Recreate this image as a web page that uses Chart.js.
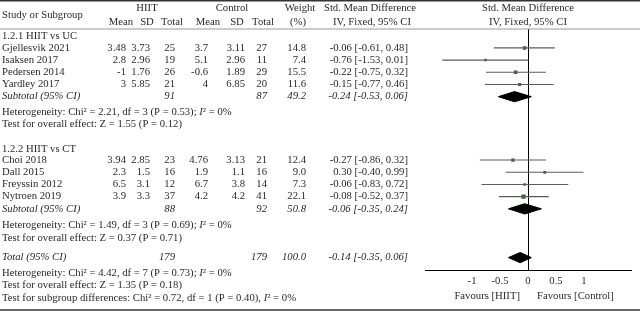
<!DOCTYPE html>
<html>
<head>
<meta charset="utf-8">
<script src="https://cdn.jsdelivr.net/npm/chart.js@4.4.1/dist/chart.umd.min.js"></script>
<style>
  html, body { margin: 0; padding: 0; background: #fff; }
  canvas { display: block; }
</style>
</head>
<body>
<canvas id="forest" width="640" height="313"></canvas>
<script>
// --- data ---
const studies = ['Gjellesvik 2021', 'Isaksen 2017', 'Pedersen 2014', 'Yardley 2017',
                 'Choi 2018', 'Dall 2015', 'Freyssin 2012', 'Nytroen 2019'];
const hiitMean = ['3.48', '2.8', '-1', '3', '3.94', '2.3', '6.5', '3.9'];
const hiitSD = ['3.73', '2.96', '1.76', '5.85', '2.85', '1.5', '3.1', '3.3'];
const hiitN = [25, 19, 26, 21, 23, 16, 12, 37];
const ctrlMean = ['3.7', '5.1', '-0.6', '4', '4.76', '1.9', '6.7', '4.2'];
const ctrlSD = ['3.11', '2.96', '1.89', '6.85', '3.13', '1.1', '3.8', '4.2'];
const ctrlN = [27, 11, 29, 20, 21, 16, 14, 41];
const weights = [14.8, 7.4, 15.5, 11.6, 12.4, 9.0, 7.3, 22.1];
const smd = [-0.06, -0.76, -0.22, -0.15, -0.27, 0.30, -0.06, -0.08];
const ciLow = [-0.61, -1.53, -0.75, -0.77, -0.86, -0.40, -0.83, -0.52];
const ciHigh = [0.48, 0.01, 0.32, 0.46, 0.32, 0.99, 0.72, 0.37];
const studyRow = [1, 2, 3, 4, 10.2, 11.2, 12.2, 13.2];

// subtotals + total
const pooledLabel = ['Subtotal (95% CI)', 'Subtotal (95% CI)', 'Total (95% CI)'];
const pooledHiitN = [91, 88, 179];
const pooledCtrlN = [87, 92, 179];
const pooledWeight = [49.2, 50.8, 100.0];
const pooledSmd = [-0.24, -0.06, -0.14];
const pooledLow = [-0.53, -0.35, -0.35];
const pooledHigh = [0.06, 0.24, 0.06];
const pooledRow = [5, 14.2, 18.2];

// subgroup headers
const groupTitles = ['1.2.1 HIIT vs UC', '1.2.2 HIIT vs CT'];
const groupRow = [0, 9.28];

// heterogeneity / overall effect lines
const hetChi = ['2.21', '1.49', '4.42'];
const hetDf = [3, 3, 7];
const hetP = ['0.53', '0.69', '0.73'];
const hetI2 = [0, 0, 0];
const hetRow = [6.25, 15.58, 19.45];
const effZ = ['1.55', '0.37', '1.35'];
const effP = ['0.12', '0.71', '0.18'];
const effRow = [7.25, 16.57, 20.48];
const subgroupDiff = { chi: '0.72', df: 1, p: '0.40', i2: 0, row: 21.5 };

const xTicks = [-1, -0.5, 0, 0.5, 1];
const favourLeft = 'Favours [HIIT]';
const favourRight = 'Favours [Control]';

// --- styles ---
const SERIF = '"Liberation Serif", "DejaVu Serif", serif';
const TEXT = '#2a2a2a';
const CI_GREY = '#5c5c5c';
const SQUARE_GREEN = '#2f6b2f';
const FS = 10.7;
const DIAMOND_H = 0.42;  // half height of diamonds in row units

function font(italic) {
    return (italic ? 'italic ' : '') + FS + 'px ' + SERIF;
}

// datasets
const datasets = [];
studies.forEach((s, i) => {
    datasets.push({
        type: 'scatter', showLine: true,
        data: [{ x: ciLow[i], y: studyRow[i] }, { x: ciHigh[i], y: studyRow[i] }],
        borderColor: CI_GREY, borderWidth: 1.1, pointRadius: 0
    });
});
datasets.push({
    type: 'scatter',
    data: smd.map((v, i) => ({ x: v, y: studyRow[i] })),
    pointStyle: 'rect',
    pointRadius: weights.map(w => Math.sqrt(w) * 0.65),
    backgroundColor: SQUARE_GREEN, borderColor: SQUARE_GREEN, borderWidth: 0
});
pooledSmd.forEach((v, i) => {
    const r = pooledRow[i];
    datasets.push({
        type: 'scatter', showLine: true, fill: 'shape',
        data: [
            { x: pooledLow[i], y: r }, { x: v, y: r - DIAMOND_H },
            { x: pooledHigh[i], y: r }, { x: v, y: r + DIAMOND_H },
            { x: pooledLow[i], y: r }
        ],
        borderColor: '#000', backgroundColor: '#000', borderWidth: 1, pointRadius: 0, tension: 0
    });
});

function drawParts(ctx, x, y, parts) {
    let cx = x;
    parts.forEach(p => {
        ctx.font = font(p[1]);
        ctx.textAlign = 'left';
        ctx.fillText(p[0], cx, y);
        cx += ctx.measureText(p[0]).width;
    });
}

// zero line drawn under the marks
const zeroLine = {
    id: 'zeroLine',
    beforeDatasetsDraw(chart) {
        const ctx = chart.ctx;
        const x = Math.round(chart.scales.x.getPixelForValue(0)) + 0.5;
        ctx.save();
        ctx.strokeStyle = '#000';
        ctx.lineWidth = 1;
        ctx.beginPath();
        ctx.moveTo(x, chart.chartArea.top);
        ctx.lineTo(x, chart.chartArea.bottom);
        ctx.stroke();
        ctx.restore();
    }
};

const forestText = {
    id: 'forestText',
    afterDraw(chart) {
        const ctx = chart.ctx;
        const ys = chart.scales.y;
        const xs = chart.scales.x;
        const zero = xs.getPixelForValue(0);
        ctx.save();
        ctx.fillStyle = TEXT;
        ctx.textBaseline = 'middle';

        function t(str, x, y, align, italic) {
            ctx.font = font(italic);
            ctx.textAlign = align;
            ctx.fillText(str, x, y);
        }

        // frame lines
        ctx.fillStyle = '#333';
        ctx.fillRect(0, 0, 640, 1.5);
        ctx.fillStyle = '#9a9a9a';
        ctx.fillRect(0, 28.5, 640, 1);
        ctx.fillStyle = '#666';
        ctx.fillRect(0, 309, 640, 2);
        ctx.fillStyle = TEXT;

        // header
        t('Study or Subgroup', 2, 15, 'left');
        t('HIIT', 147, 8, 'center');
        t('Mean', 121, 22, 'center');
        t('SD', 147, 22, 'center');
        t('Total', 172, 22, 'center');
        t('Control', 232, 8, 'center');
        t('Mean', 208, 22, 'center');
        t('SD', 237, 22, 'center');
        t('Total', 263, 22, 'center');
        t('Weight', 300, 8, 'center');
        t('(%)', 298, 22, 'center');
        t('Std. Mean Difference', 370, 8, 'center');
        t('IV, Fixed, 95% CI', 372, 22, 'center');
        t('Std. Mean Difference', zero, 8, 'center');
        t('IV, Fixed, 95% CI', zero, 22, 'center');

        const fmtCI = (m, lo, hi) => m.toFixed(2) + ' [' + lo.toFixed(2) + ', ' + hi.toFixed(2) + ']';

        groupTitles.forEach((g, i) => t(g, 2, ys.getPixelForValue(groupRow[i]), 'left'));

        studies.forEach((s, i) => {
            const y = ys.getPixelForValue(studyRow[i]);
            t(s, 2, y, 'left');
            t(hiitMean[i], 126, y, 'right');
            t(hiitSD[i], 150, y, 'right');
            t(String(hiitN[i]), 175, y, 'right');
            t(ctrlMean[i], 208, y, 'right');
            t(ctrlSD[i], 245, y, 'right');
            t(String(ctrlN[i]), 267, y, 'right');
            t(weights[i].toFixed(1), 306, y, 'right');
            t(fmtCI(smd[i], ciLow[i], ciHigh[i]), 408, y, 'right');
        });

        pooledLabel.forEach((lab, i) => {
            const y = ys.getPixelForValue(pooledRow[i]);
            t(lab, 2, y, 'left', true);
            t(String(pooledHiitN[i]), 175, y, 'right', true);
            t(String(pooledCtrlN[i]), 267, y, 'right', true);
            t(pooledWeight[i].toFixed(1), 306, y, 'right', true);
            t(fmtCI(pooledSmd[i], pooledLow[i], pooledHigh[i]), 408, y, 'right', true);
        });

        hetChi.forEach((c, i) => {
            drawParts(ctx, 2, ys.getPixelForValue(hetRow[i]), [
                ['Heterogeneity: Chi\u00b2 = ' + c + ', df = ' + hetDf[i] + ' (P = ' + hetP[i] + '); ', false],
                ['I', true], ['\u00b2 = ' + hetI2[i] + '%', false]
            ]);
            t('Test for overall effect: Z = ' + effZ[i] + ' (P = ' + effP[i] + ')', 2,
              ys.getPixelForValue(effRow[i]), 'left');
        });

        drawParts(ctx, 2, ys.getPixelForValue(subgroupDiff.row), [
            ['Test for subgroup differences: Chi\u00b2 = ' + subgroupDiff.chi + ', df = ' + subgroupDiff.df +
             ' (P = ' + subgroupDiff.p + '), ', false],
            ['I', true], ['\u00b2 = ' + subgroupDiff.i2 + '%', false]
        ]);

        // favours labels under the axis
        const fy = xs.top + 26;
        t(favourLeft, zero - 8, fy, 'right');
        t(favourRight, zero + 9, fy, 'left');

        ctx.restore();
    }
};

new Chart(document.getElementById('forest'), {
    type: 'scatter',
    data: { datasets: datasets },
    options: {
        responsive: false,
        animation: false,
        devicePixelRatio: 1,
        layout: { padding: { left: 425, right: 9, top: 29, bottom: 20 } },
        plugins: { legend: { display: false }, tooltip: { enabled: false } },
        scales: {
            x: {
                type: 'linear',
                min: -1.84,
                max: 1.84,
                afterBuildTicks: s => { s.ticks = xTicks.map(v => ({ value: v })); },
                grid: { display: false, drawTicks: false },
                border: { color: '#000', width: 1 },
                ticks: {
                    color: TEXT,
                    padding: 5,
                    font: { family: SERIF, size: FS },
                    callback: v => String(v)
                }
            },
            y: {
                type: 'linear',
                display: false,
                reverse: true,
                min: -0.55,
                max: 19.23
            }
        }
    },
    plugins: [zeroLine, forestText]
});
</script>
</body>
</html>
